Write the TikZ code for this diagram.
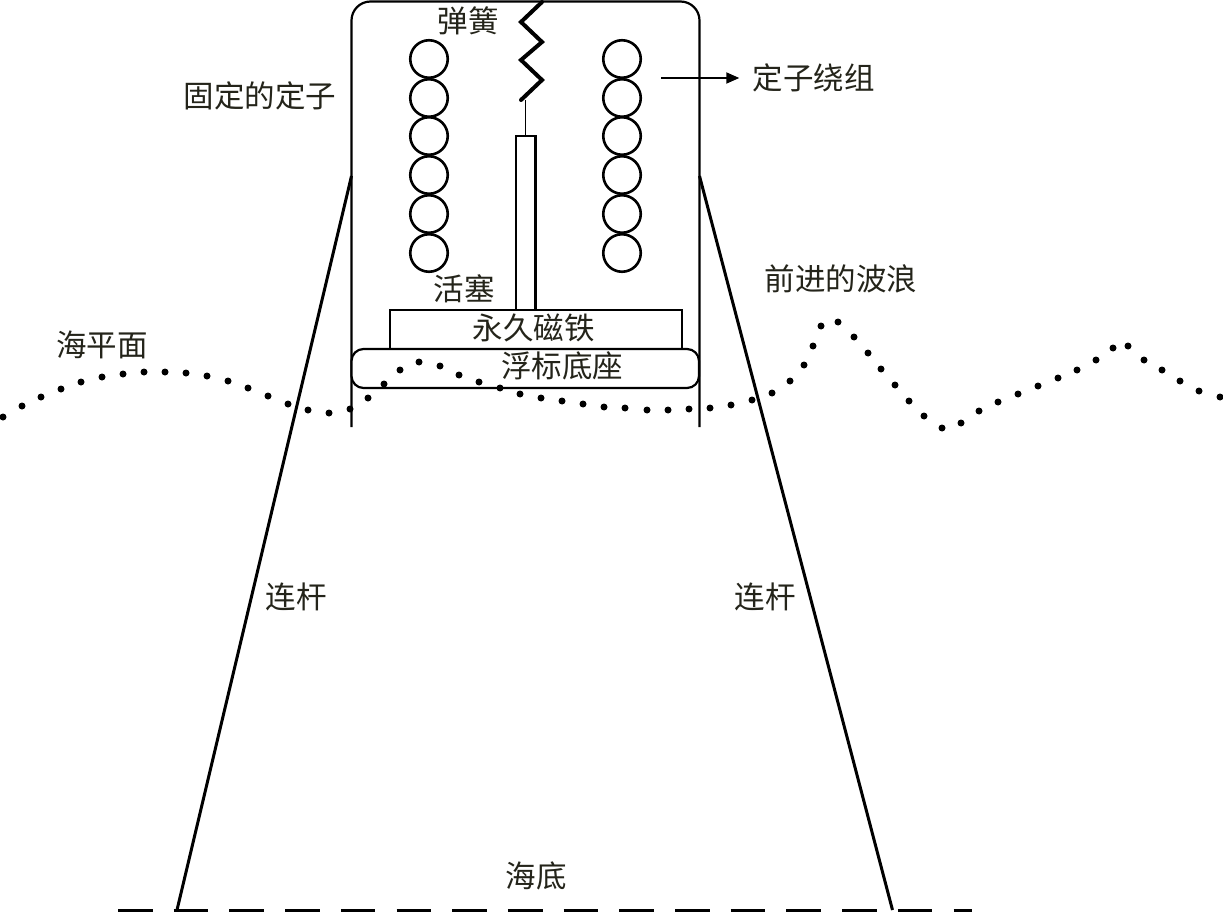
\documentclass[tikz,border=0pt]{standalone}
\usepackage{fontspec}
\setmainfont{Noto Sans CJK SC}
\usetikzlibrary{arrows.meta}
\definecolor{inkc}{HTML}{24241A}
\tikzset{
  lbl/.style={inner sep=0pt,text=inkc,font=\fontsize{30.5}{32}\selectfont},
  coil/.style={circle,draw=black,line width=2.6pt,minimum size=37.5pt,inner sep=0pt},
  wall/.style={line width=2.2pt,draw=black},
  strut/.style={line width=3pt,draw=black},
  wavedot/.style={circle,fill=black,inner sep=0pt,minimum size=7pt},
  block/.style={draw=black,line width=2.2pt,fill=white,inner sep=0pt,anchor=north west}
}
\begin{document}
\begin{tikzpicture}[x=1pt,y=-1pt]
\useasboundingbox (0,0) rectangle (1223,912);
\fill[white] (0,0) rectangle (1223,912);
% stator
\coordinate (sl) at (351.5,427);
\coordinate (sr) at (699.5,427);
\draw[wall,rounded corners=19pt] (sl) -- (351.5,1.5) -- (699.5,1.5) -- (sr);
% coils
\foreach \i/\y in {1/59,2/98,3/136,4/175,5/214,6/253}{
  \node[coil] (cl\i) at (429,\y) {};
  \node[coil] (cr\i) at (622,\y) {};
}
% spring
\coordinate (s0) at (542,2);
\coordinate (s1) at (521,22);
\coordinate (s2) at (542,42);
\coordinate (s3) at (521,60);
\coordinate (s4) at (542,80);
\coordinate (s5) at (521,100);
\draw[line width=4pt,line join=miter,line cap=round] (s0) -- (s1) -- (s2) -- (s3) -- (s4) -- (s5);
% rod
\node[block,minimum width=19.5pt,minimum height=174pt] (rod) at (514.9,134.9) {};
\coordinate (sa) at (525.5,100);
\draw[line width=1.8pt] (sa) -- (sa |- rod.north);
% magnet and float
\node[block,minimum width=292pt,minimum height=39pt] (magnet) at (388.9,308.9) {};
\node[block,rounded corners=12pt,minimum width=347.5pt,minimum height=39pt] (float) at (350.4,347.9) {};
% poles
\coordinate (pl0) at (351.5,176);
\coordinate (pl1) at (177,910);
\coordinate (pr0) at (699.5,176);
\coordinate (pr1) at (892.5,910);
\draw[strut] (pl0) -- (pl1);
\draw[strut] (pr0) -- (pr1);
% seabed
\coordinate (b0) at (118,910);
\coordinate (b1) at (972,910);
\draw[line width=3pt,dash pattern=on 34.6pt off 21.1pt] (b0) -- (b1);
% wave
\foreach \x/\y [count=\n] in {3/417,22/406,41/397,61/389,81/382,102/377,123/374,144/372,165/372,186/373,207/376,228/381,248/388,268/396,288/404,308/410,329/413,350/409,368/398,384/384,400/370,419/362,440/366,459/375,479/382,500/388,520/394,541/398,562/401,583/404,604/407,625/408,647/410,668/410,689/409,710/408,731/405,752/400,772/393,790/381,804/365,813/346,821/326,838/322,854/337,868/353,881/369,895/385,909/401,924/416,942/428,961/423,979/411,998/402,1018/394,1038/386,1058/378,1077/370,1096/360,1113/348,1128/346,1144/360,1162/370,1180/381,1199/391,1220/397}{
  \node[wavedot] (w\n) at (\x,\y) {};
}
% labels
\node[lbl] (spring) at (468,21) {弹簧};
\node[lbl] (stator) at (260,96) {固定的定子};
\node[lbl] (winding) at (813.5,78) {定子绕组};
\node[lbl] (piston) at (464,289) {活塞};
\node[lbl] (magnetl) at (533.5,328) {永久磁铁};
\node[lbl] (floatl) at (562,366) {浮标底座};
\node[lbl] (sea) at (102,345) {海平面};
\node[lbl] (wavel) at (841,279) {前进的波浪};
\node[lbl] (rodl) at (296,597) {连杆};
\node[lbl] (rodr) at (765,597) {连杆};
\node[lbl] (bed) at (536,876) {海底};
% arrow
\coordinate (a0) at (661,78);
\draw[line width=1.8pt,-{Triangle[length=13pt,width=11pt]},shorten >=13pt] (a0) -- (winding.west);
\end{tikzpicture}
\end{document}
